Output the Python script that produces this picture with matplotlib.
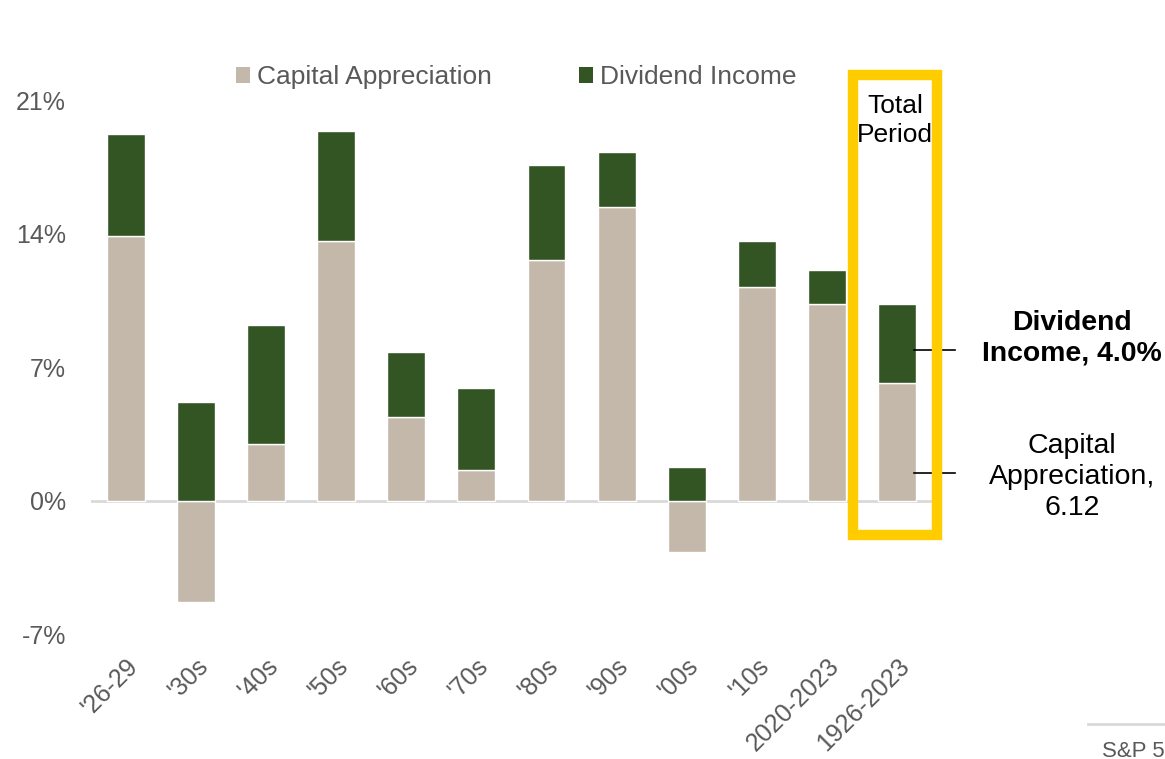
import numpy as np
import matplotlib.pyplot as plt
from matplotlib.patches import Rectangle, Patch

plt.rcParams['font.family'] = ['Liberation Sans', 'DejaVu Sans']

periods = ["'26-29", "'30s", "'40s", "'50s", "'60s", "'70s", "'80s", "'90s", "'00s", "'10s",
           "2020-2023", "1926-2023"]
capital = [13.9, -5.3, 3.0, 13.6, 4.4, 1.6, 12.6, 15.4, -2.7, 11.2, 10.3, 6.2]
dividend = [5.35, 5.2, 6.2, 5.8, 3.4, 4.3, 5.0, 2.9, 1.8, 2.4, 1.8, 4.1]

cap_color = '#C4B8AA'
div_color = '#335524'
gray = '#595959'

fig = plt.figure(figsize=(11.65, 7.59), dpi=100)
ax = fig.add_axes([0.078, 0.164, 0.722, 0.704])

x = np.arange(len(periods))
cap = np.array(capital)
div = np.array(dividend)
div_bottom = np.where(cap > 0, cap, 0)

ax.bar(x, cap, width=0.54, color=cap_color, edgecolor='white', linewidth=1, zorder=2)
ax.bar(x, div, bottom=div_bottom, width=0.54, color=div_color, edgecolor='white', linewidth=1, zorder=2)
ax.axhline(0, color='#D9D9D9', linewidth=2, zorder=1)

ax.set_xlim(-0.5, 11.5)
ax.set_ylim(-7, 21)
ax.set_yticks([-7, 0, 7, 14, 21])
ax.set_yticklabels(['-7%', '0%', '7%', '14%', '21%'])
ax.set_xticks(x)
ax.set_xticklabels(periods, rotation=45, ha='right', rotation_mode='anchor')
ax.tick_params(axis='both', length=0, labelsize=18, labelcolor=gray)
ax.tick_params(axis='x', pad=14)
ax.tick_params(axis='y', pad=18)
for s in ax.spines.values():
    s.set_visible(False)

# highlight box around total period
box = Rectangle((10.37, -1.78), 1.2, 24.12, fill=False, edgecolor='#FFCC00',
                linewidth=7.5, clip_on=False, zorder=3)
ax.add_patch(box)
ax.text(10.97, 19.95, 'Total\nPeriod', ha='center', va='center', fontsize=19,
        color='black', linespacing=1.25)

# annotation leader lines
ax.plot([11.24, 11.83], [7.9, 7.9], color='black', linewidth=1.2, clip_on=False)
ax.plot([11.24, 11.83], [1.47, 1.47], color='black', linewidth=1.2, clip_on=False)
fig.text(1072 / 1165, 1 - 338 / 759, 'Dividend\nIncome, 4.0%', ha='center', va='center',
         fontsize=20.4, fontweight='bold', color='black', linespacing=1.25)
fig.text(1072 / 1165, 1 - 477 / 759, 'Capital\nAppreciation,\n6.12', ha='center', va='center',
         fontsize=20.5, color='black', linespacing=1.25)

handles = [Patch(facecolor=cap_color, edgecolor='none'), Patch(facecolor=div_color, edgecolor='none')]
fig.legend(handles, ['Capital Appreciation', 'Dividend Income'], loc='center',
           bbox_to_anchor=(516 / 1165, 1 - 77 / 759), ncol=2, frameon=False, fontsize=19,
           labelcolor=gray, handlelength=0.55, handleheight=0.55, handletextpad=0.25,
           columnspacing=3.3)

# source footer, cut off at the edge as in the original
fig.add_artist(plt.Line2D([1088 / 1165, 1.0], [1 - 724 / 759, 1 - 724 / 759],
                          color='#D9D9D9', linewidth=2))
fig.text(1102 / 1165, 1 - 762 / 759, 'S&P 500', fontsize=16, color=gray, va='bottom')

fig.savefig('out.png', dpi=100)
